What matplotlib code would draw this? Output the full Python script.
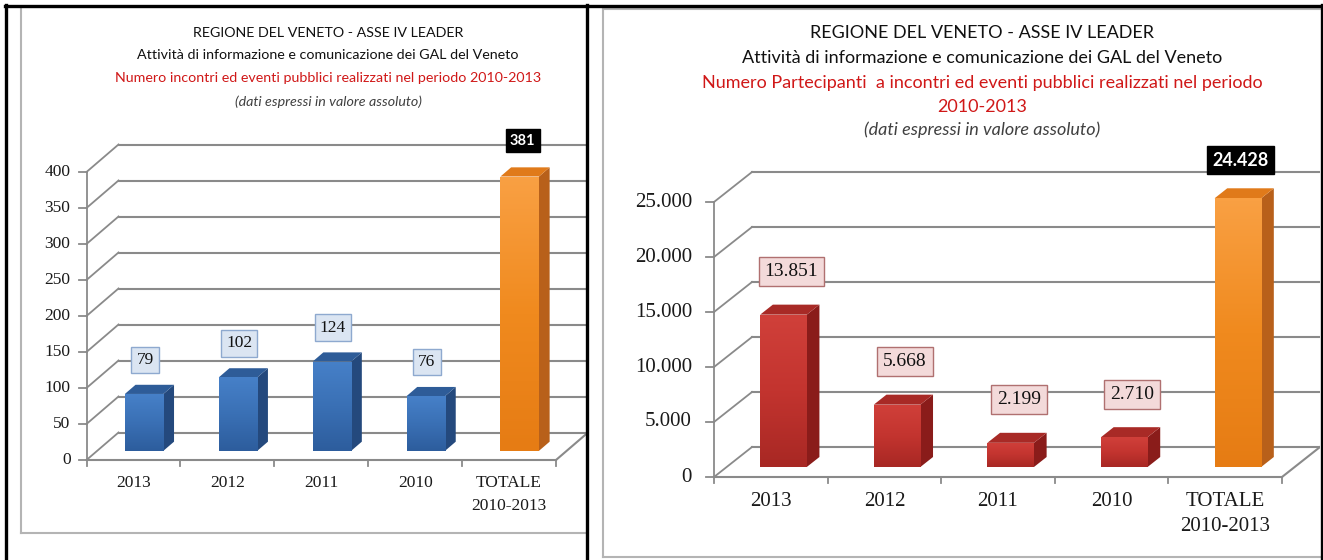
import matplotlib
matplotlib.use("Agg")
import matplotlib.pyplot as plt
import numpy as np
from matplotlib.patches import Polygon
from matplotlib.lines import Line2D
from matplotlib.colors import LinearSegmentedColormap

W, H = 1323, 560

categories = ["2013", "2012", "2011", "2010", "TOTALE\n2010-2013"]

# left chart: number of meetings / events
eventi = [79, 102, 124, 76]
eventi_totale = 381
eventi_labels = ["79", "102", "124", "76"]
eventi_totale_label = "381"
eventi_ticks = [0, 50, 100, 150, 200, 250, 300, 350, 400]
eventi_ticklabels = ["0", "50", "100", "150", "200", "250", "300", "350", "400"]

# right chart: number of participants
partecipanti = [13851, 5668, 2199, 2710]
partecipanti_totale = 24428
partecipanti_labels = ["13.851", "5.668", "2.199", "2.710"]
partecipanti_totale_label = "24.428"
partecipanti_ticks = [0, 5000, 10000, 15000, 20000, 25000]
partecipanti_ticklabels = ["0", "5.000", "10.000", "15.000", "20.000", "25.000"]

titolo_1 = "REGIONE DEL VENETO - ASSE IV LEADER"
titolo_2 = "Attività di informazione e comunicazione dei GAL del Veneto"
titolo_eventi = "Numero incontri ed eventi pubblici realizzati nel periodo 2010-2013"
titolo_partecipanti = ["Numero Partecipanti  a incontri ed eventi pubblici realizzati nel periodo",
                       "2010-2013"]
titolo_nota = "(dati espressi in valore assoluto)"

SANS = ["Lato", "DejaVu Sans"]
SERIF = ["Liberation Serif", "DejaVu Serif"]
GRID = "#8a8a8a"
ORANGE = ("#f9a043", "#f08a1e", "#e67c14")


def px_axes(fig, x0, y0, x1, y1):
    return fig.add_axes([x0 / W, 1 - y1 / H, (x1 - x0) / W, (y1 - y0) / H])


def draw_panel(fig, frame, origin, catw, ppu, depth, vals, total, labels, total_label,
               ticks, ticklabels, face, side, top, lab_fill, lab_edge, gap, gap_tot,
               lab_dx, fs_tick, fs_lab, fs_tot, lab_off, lsp):
    fx0, fy0, fx1, fy1 = frame
    ox, oy = origin
    ax = px_axes(fig, fx0, fy0, fx1, fy1)
    ax.set_xticks([])
    ax.set_yticks([])
    for s in ["left", "top", "bottom"]:
        ax.spines[s].set_color("#b4b4b4")
        ax.spines[s].set_linewidth(1.5)
    ax.spines["right"].set_visible(False)

    n = len(categories)
    xmax = (fx1 - ox) / catw
    dx = depth[0] / catw
    dy = depth[1] / ppu
    tk = 8 / catw

    # back wall + side wall
    for t in ticks:
        ax.add_line(Line2D([dx, xmax], [t + dy, t + dy], color=GRID, lw=1.5, zorder=1))
        ax.add_line(Line2D([0, dx], [t, t + dy], color=GRID, lw=1.3, zorder=1))
        ax.add_line(Line2D([-tk, 0], [t, t], color=GRID, lw=1.3, zorder=1))
    ax.add_line(Line2D([0, 0], [0, ticks[-1]], color=GRID, lw=1.3, zorder=1))
    # floor
    ax.add_line(Line2D([0, n], [0, 0], color=GRID, lw=1.5, zorder=1))
    ax.add_line(Line2D([n, n + dx], [0, dy], color=GRID, lw=1.5, zorder=1))
    for k in range(n + 1):
        ax.add_line(Line2D([k, k], [0, -6 / ppu], color=GRID, lw=1.3, zorder=1))

    for t, lab in zip(ticks, ticklabels):
        ax.text(-lab_off / catw, t, lab, ha="right", va="center", fontsize=fs_tick,
                family=SERIF, color="#1a1a1a")
    for k, cat in enumerate(categories):
        ax.text(k + 0.5, -15 / ppu, cat, ha="center", va="top", fontsize=fs_tick,
                family=SERIF, color="#1a1a1a", linespacing=lsp)

    # 3D bars
    allv = list(vals) + [total]
    fronts = [face] * len(vals) + [ORANGE]
    sides = [side] * len(vals) + ["#b8601a"]
    tops = [top] * len(vals) + ["#e07a1a"]
    w = 0.41
    xs = [k + 0.5 + dx / 3 for k in range(n)]
    b0 = dy / 3
    bars = ax.bar(xs, allv, width=w, bottom=b0, color=[f[1] for f in fronts],
                  zorder=3, linewidth=0)
    grad = np.linspace(0, 1, 64).reshape(-1, 1)
    for rect, x, v, fc, sc, tc in zip(bars, xs, allv, fronts, sides, tops):
        xl, xr = x - w / 2, x + w / 2
        cmap = LinearSegmentedColormap.from_list("f", [fc[2], fc[1], fc[0]])
        im = ax.imshow(grad, cmap=cmap, origin="lower", aspect="auto",
                       extent=(xl, xr, b0, b0 + v), zorder=3.1, interpolation="bilinear")
        im.set_clip_path(rect)
        ax.add_patch(Polygon([(xr, b0), (xr, b0 + v), (xr + dx / 3, b0 + v + dy / 3),
                              (xr + dx / 3, b0 + dy / 3)], closed=True, color=sc, lw=0, zorder=3))
        ax.add_patch(Polygon([(xl, b0 + v), (xr, b0 + v), (xr + dx / 3, b0 + v + dy / 3),
                              (xl + dx / 3, b0 + v + dy / 3)], closed=True, color=tc, lw=0, zorder=3))

    # value labels
    for x, v, lab in zip(xs, vals, labels):
        ax.text(x + lab_dx / catw, b0 + v + gap / ppu, lab, ha="center", va="center",
                fontsize=fs_lab, family=SERIF, color="#111111", zorder=5,
                bbox=dict(boxstyle="square,pad=0.3", fc=lab_fill, ec=lab_edge, lw=1.0))
    ax.text(xs[-1] + 3 / catw, b0 + total + gap_tot / ppu, total_label, ha="center",
            va="center", fontsize=fs_tot, family=SANS, weight="bold", color="white", zorder=5,
            bbox=dict(boxstyle="square,pad=0.3", fc="black", ec="black", lw=1.0))

    ax.set_xlim((fx0 - ox) / catw, (fx1 - ox) / catw)
    ax.set_ylim((oy - fy1) / ppu, (oy - fy0) / ppu)
    return ax


fig = plt.figure(figsize=(W / 100, H / 100), dpi=100)

draw_panel(fig, (21, 7, 586, 533), (86.5, 460), 93.9, 288 / 400, (32, 27.5),
           eventi, eventi_totale, eventi_labels, eventi_totale_label,
           eventi_ticks, eventi_ticklabels,
           ("#4680c8", "#3a70b5", "#2d5d9d"), "#24497d", "#2e5c98", "#dbe5f2", "#8ea9cf",
           34, 36, 1, 12.5, 12.5, 10.5, 16, 1.6)

draw_panel(fig, (603, 9, 1320, 557), (714, 477), 113.6, 275 / 25000, (38, 30),
           partecipanti, partecipanti_totale, partecipanti_labels, partecipanti_totale_label,
           partecipanti_ticks, partecipanti_ticklabels,
           ("#d0403a", "#c3342f", "#a82824"), "#8a1c1a", "#a82a26", "#f3dada", "#b07070",
           43, 38, 8, 15, 14, 13, 22, 1.45)

# titles
def ftext(x, y, s, **kw):
    fig.text(x / W, 1 - y / H, s, ha="center", va="center", family=SANS, **kw)

ftext(328, 33, titolo_1, fontsize=10.3, color="#111111")
ftext(328, 55, titolo_2, fontsize=10.3, color="#111111")
ftext(328, 78, titolo_eventi, fontsize=10.3, color="#d01818")
ftext(328, 102, titolo_nota, fontsize=10.3, color="#404040", style="italic")

ftext(982, 33, titolo_1, fontsize=13, color="#111111")
ftext(982, 58, titolo_2, fontsize=13, color="#111111")
ftext(982, 83, titolo_partecipanti[0], fontsize=13, color="#d01818")
ftext(982, 107, titolo_partecipanti[1], fontsize=13, color="#d01818")
ftext(982, 130, titolo_nota, fontsize=13, color="#404040", style="italic")

# black outer borders
for xs_, ys_ in [([5, 1322], [5.5, 5.5]), ([6, 6], [5, 560]), ([587, 587], [5, 560]),
                 ([1321.5, 1321.5], [5, 558])]:
    fig.add_artist(Line2D([x / W for x in xs_], [1 - y / H for y in ys_], color="black", lw=2.4))

fig.savefig("out.png", dpi=100)
